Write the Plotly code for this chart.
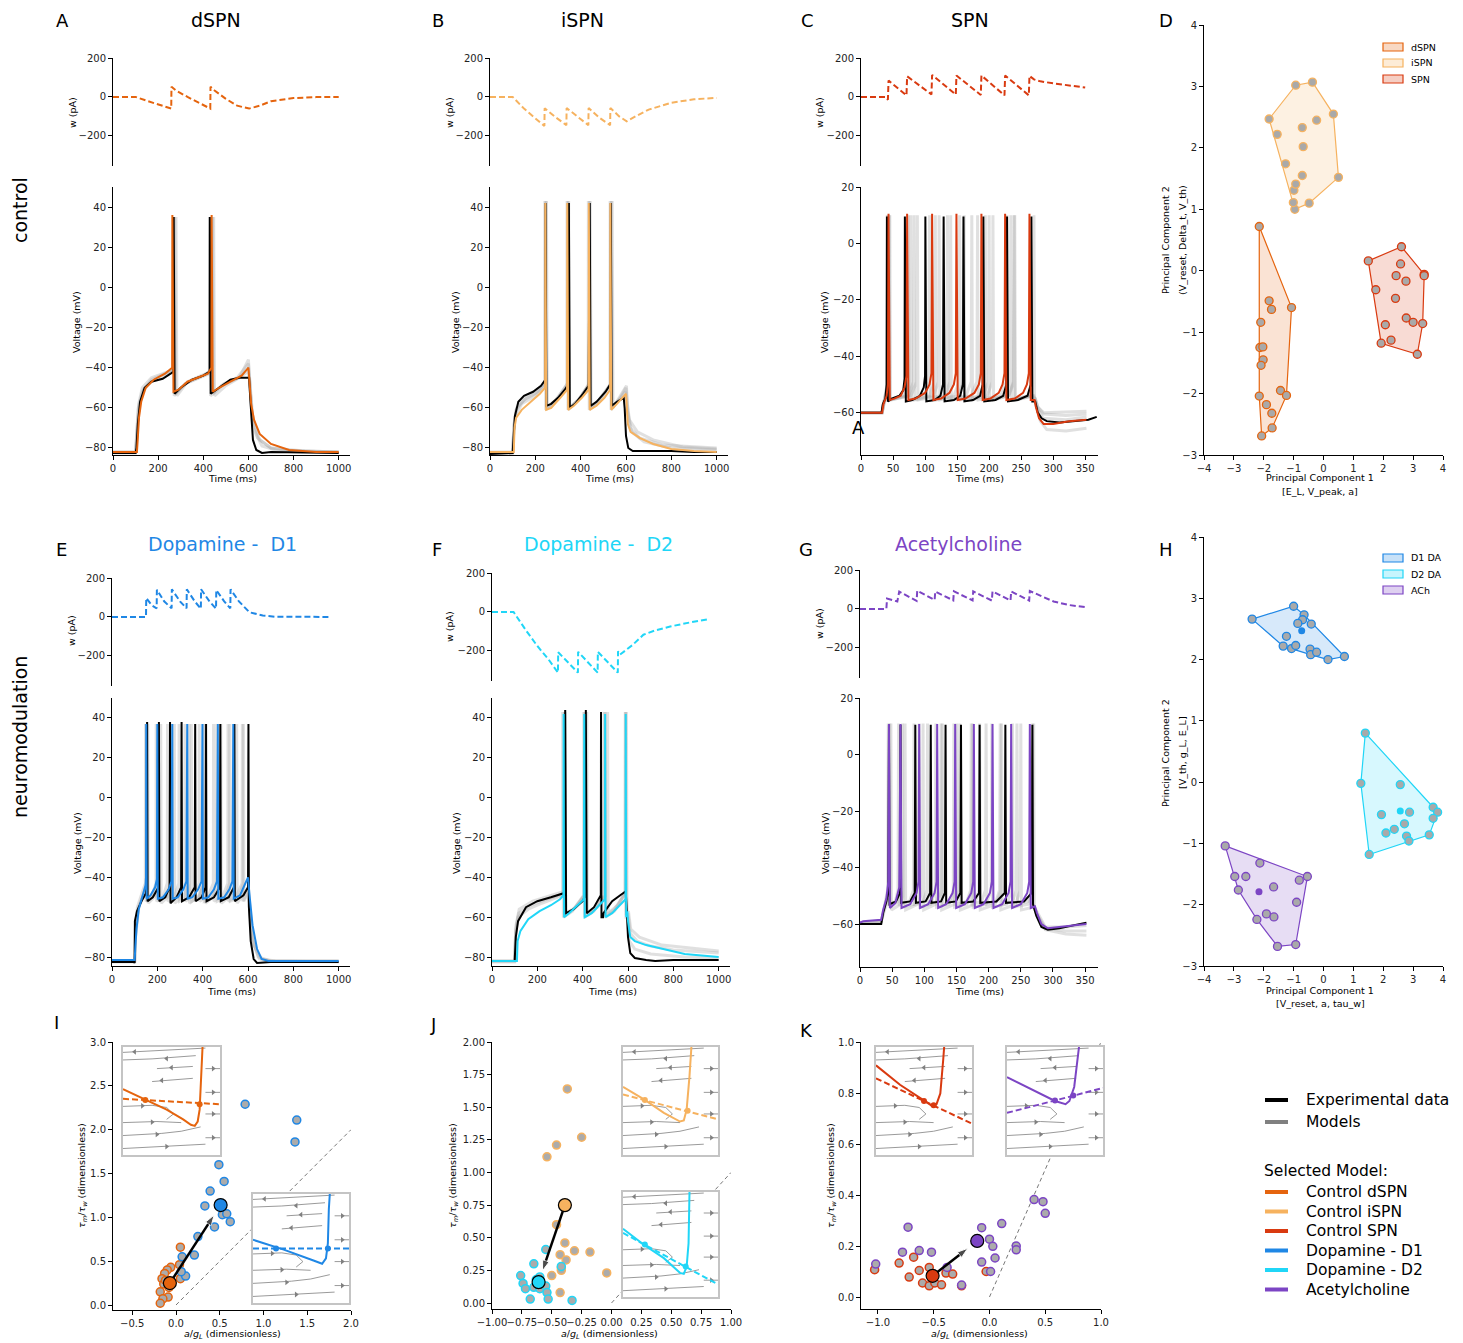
import plotly.graph_objects as go

W, H = 1463, 1343
FONT = "DejaVu Sans"

C_DSPN = "#e5640e"
C_ISPN = "#f6b25f"
C_SPN = "#d93a10"
C_D1 = "#1f87e5"
C_D2 = "#20d6f7"
C_ACH = "#7c45c4"
GRAY_MODEL = "rgba(165,165,165,0.35)"

# ---------------- Panel A (dSPN) ----------------
A_exp = [(0,-82.5),(100,-82.5),(104,-80),(110,-68),(120,-57),(140,-50),(170,-47),(220,-45.5),(255,-43),(268,-42),(269,35),(273,-53),(300,-50),(350,-46),(400,-44),(428,-42),(429,35),(433,-53),(470,-50),(520,-46),(560,-45),(603,-45),(608,-55),(620,-76),(635,-81),(660,-82.5),(700,-82),(1000,-82.5)]
A_mod = [(0,-82),(106,-82),(110,-75),(115,-65),(125,-57),(145,-50),(180,-46),(230,-43),(262,-40),(263,36),(268,-52),(290,-51),(330,-47),(380,-45),(420,-43),(436,-40),(437,36),(442,-52),(470,-50),(520,-47),(570,-44),(600,-40),(604,-45),(612,-58),(625,-66),(650,-73),(700,-78),(780,-81),(900,-82),(1000,-82)]
A_g1 = [(0,-82),(100,-82),(105,-76),(115,-60),(135,-51),(170,-47),(230,-44),(272,-40),(273,35),(277,-53),(320,-48),(380,-45),(440,-41),(441,35),(445,-53),(490,-48),(550,-45),(600,-38),(605,-45),(620,-66),(650,-76),(700,-80),(800,-81.5),(1000,-82)]
A_g2 = [(0,-82.5),(100,-82.5),(104,-74),(112,-60),(130,-52),(170,-46),(230,-43),(278,-40),(279,35),(283,-54),(330,-47),(390,-44),(445,-42),(446,35),(450,-54),(500,-49),(560,-45),(600,-36),(606,-48),(620,-70),(660,-79),(720,-81),(1000,-82)]
A_g3 = [(0,-82),(100,-82),(106,-72),(114,-58),(130,-50),(170,-45),(220,-43),(266,-41),(267,35),(271,-54),(320,-48),(380,-45),(427,-43),(428,35),(432,-54),(480,-49),(540,-46),(600,-42),(605,-46),(615,-62),(640,-75),(700,-80),(850,-81.5),(1000,-82)]
A_w = [(0,0),(100,0),(150,-20),(200,-40),(258,-60),(259,52),(280,32),(330,0),(380,-30),(431,-60),(432,52),(450,33),(500,-10),(550,-45),(603,-60),(650,-45),(700,-22),(800,-6),(900,-1),(1000,0)]

# ---------------- Panel B (iSPN) ----------------
B_exp = [(0,-83),(100,-82.5),(104,-75),(110,-64),(125,-57),(150,-54),(190,-52),(225,-49),(244,-46),(245,42),(249,-59),(270,-58),(300,-55),(330,-51),(347,-48),(348,42),(352,-60),(375,-58),(410,-53),(435,-49),(440,42),(444,-59),(470,-57),(510,-52),(532,-48),(533,42),(537,-59),(560,-57),(590,-55),(594,-60),(600,-74),(610,-80),(630,-81.5),(700,-81.5),(800,-81.5),(900,-82),(1000,-82)]
B_mod = [(0,-82),(105,-82),(108,-70),(115,-65),(140,-61),(180,-57),(220,-53),(243,-50),(244,42),(248,-61),(270,-60),(310,-55),(340,-51),(341,42),(345,-61),(370,-59),(405,-55),(435,-51),(436,42),(440,-61),(470,-59),(505,-55),(530,-51),(531,42),(535,-61),(560,-58),(600,-53),(603,-58),(608,-68),(620,-72),(660,-75),(720,-78),(800,-80.5),(900,-81.5),(1000,-82)]
B_g1 = [(0,-82.5),(100,-82.5),(105,-70),(115,-61),(150,-56),(200,-53),(245,-48),(246,43),(250,-60),(290,-56),(343,-48),(344,43),(348,-60),(390,-56),(438,-48),(439,43),(443,-60),(480,-56),(534,-48),(535,43),(539,-60),(575,-55),(600,-50),(605,-57),(615,-66),(650,-72),(720,-76),(850,-79.5),(1000,-80.5)]
B_g2 = [(0,-82),(100,-82),(106,-68),(118,-60),(160,-55),(210,-52),(248,-47),(249,43),(253,-60),(300,-55),(346,-47),(347,43),(351,-60),(400,-55),(441,-47),(442,43),(446,-60),(490,-55),(538,-47),(539,43),(543,-60),(580,-53),(602,-49),(608,-62),(625,-72),(680,-77),(800,-80),(1000,-81)]
B_g3 = [(0,-82.5),(100,-82.5),(104,-74),(112,-64),(140,-58),(200,-54),(241,-49),(242,43),(246,-61),(295,-56),(339,-49),(340,43),(344,-61),(390,-56),(433,-49),(434,43),(438,-61),(485,-56),(529,-49),(530,43),(534,-61),(575,-55),(598,-52),(604,-60),(618,-70),(660,-75),(760,-78.5),(1000,-80)]
B_w = [(0,0),(100,0),(150,-60),(200,-110),(240,-150),(241,-58),(290,-105),(337,-145),(338,-57),(390,-105),(434,-145),(435,-57),(480,-105),(530,-145),(531,-57),(570,-100),(603,-125),(650,-95),(700,-65),(800,-30),(900,-12),(1000,-5)]

# ---------------- Panel C (SPN) ----------------
C_exp = [(0,-60),(32,-60),(34,-57),(38,-55),(40,-50),(40.5,9.5),(42,-56),(48,-55),(60,-54),(66,-52),(68,-48),(68.5,9.5),(70,-56),(80,-55.5),(92,-54),(98,-51),(100,-47),(100.5,9.5),(102,-56),(115,-55.5),(124,-54),(128,-50),(129,9.5),(130.5,-56),(145,-55.5),(155,-54),(159,-50),(160,9.5),(161.5,-56),(175,-55.5),(186,-54),(190,-50),(191,9.5),(192.5,-56),(210,-55.5),(222,-54),(227,-50),(228,9.5),(229.5,-56),(245,-55.5),(260,-54),(265,-50),(266,9.5),(267.5,-56),(272,-56),(276,-60),(282,-62),(290,-63),(310,-63.5),(340,-63),(355,-62.5),(368,-61.5)]
C_mod = [(0,-60),(33,-60),(35,-57),(40,-54),(42,-50),(43,10.5),(45,-55.5),(52,-55),(62,-54),(68,-51),(71,-47),(72,10.5),(74,-55.5),(85,-55),(100,-53),(107,-50),(110,-46),(111,10.5),(113,-55.5),(125,-55),(138,-53),(145,-50),(148,-46),(149,10.5),(151,-55.5),(163,-55),(177,-53),(184,-50),(187,-46),(188,10.5),(190,-55.5),(202,-55),(215,-53),(221,-50),(224,-46),(225,10.5),(227,-55.5),(240,-55),(253,-53),(259,-50),(262,-46),(263,10.5),(265,-55.5),(271,-55.5),(273,-58),(278,-62),(285,-64),(300,-64),(325,-63),(352,-62.5)]
C_g1 = [(0,-60),(33,-60),(36,-56),(40,-51),(41,10),(42,-55.5),(65,-54),(73,-49),(74,10),(75,-55.5),(98,-54),(106,-49),(107,10),(108,-55.5),(131,-54),(139,-49),(140,10),(141,-55.5),(164,-54),(172,-49),(173,10),(174,-55.5),(197,-54),(205,-49),(206,10),(207,-55.5),(230,-54),(238,-49),(239,10),(240,-55.5),(268,-54),(272,-55),(276,-58),(285,-60.5),(320,-61),(352,-60.5)]
C_g2 = [(0,-60),(33,-60),(36,-57),(44,-50),(45,10),(46,-55.5),(74,-54),(82,-49),(83,10),(84,-55.5),(113,-54),(121,-49),(122,10),(123,-55.5),(152,-54),(160,-49),(161,10),(162,-55.5),(191,-54),(199,-49),(200,10),(201,-55.5),(231,-54),(239,-49),(240,10),(241,-55.5),(270,-54),(273,-57),(280,-63),(290,-66),(320,-66.5),(352,-65.5)]
C_g3 = [(0,-60),(33,-60),(36,-56),(41,-50),(42,10),(43,-55.5),(69,-54),(77,-49),(78,10),(79,-55.5),(107,-54),(115,-49),(116,10),(117,-55.5),(145,-54),(153,-49),(154,10),(155,-55.5),(185,-54),(193,-49),(194,10),(195,-55.5),(225,-54),(233,-49),(234,10),(235,-55.5),(262,-54),(269,-50),(270,10),(271,-55.5),(274,-58),(284,-62),(320,-62.5),(352,-61.5)]
C_g4 = [(0,-60),(33,-60),(36,-56),(43,-50),(44,10),(45,-55.5),(78,-54),(87,-49),(88,10),(89,-55.5),(125,-54),(134,-49),(135,10),(136,-55.5),(172,-54),(181,-49),(182,10),(183,-55.5),(218,-54),(227,-49),(228,10),(229,-55.5),(265,-54),(272,-55),(276,-58),(285,-60),(352,-59.5)]
C_w = [(0,0),(38,0),(42,-15),(43,84),(71,8),(72,106),(110,13),(111,113),(148,12),(149,110),(187,10),(188,110),(224,8),(225,110),(262,8),(263,108),(270,90),(280,80),(300,70),(330,58),(350,48)]

# ---------------- Panel D (PCA control) ----------------
D_dspn = [(-2.15,0.72),(-1.07,-0.60),(-1.82,-0.49),(-1.74,-0.63),(-2.10,-0.84),(-2.13,-1.25),(-2.03,-1.24),(-2.02,-1.45),(-2.09,-1.54),(-1.44,-1.95),(-1.24,-2.03),(-2.15,-2.04),(-1.91,-2.18),(-1.73,-2.32),(-1.72,-2.56),(-2.07,-2.69)]
D_ispn = [(-0.93,3.02),(-0.37,3.07),(0.33,2.55),(0.50,1.52),(-0.48,1.10),(-0.96,1.00),(-1.01,1.11),(-0.99,1.31),(-0.93,1.41),(-0.71,1.55),(-1.27,1.74),(-1.55,2.22),(-1.82,2.47),(-0.71,2.33),(-0.68,2.02),(-0.23,2.45)]
D_spn = [(1.50,0.16),(2.61,0.39),(2.58,0.11),(3.37,-0.06),(3.37,-0.08),(2.43,-0.08),(2.76,-0.17),(1.75,-0.31),(2.41,-0.45),(2.77,-0.77),(3.00,-0.84),(3.32,-0.86),(2.07,-0.88),(2.26,-1.13),(1.93,-1.18),(3.14,-1.36)]

# ---------------- Panel E (Dopamine D1) ----------------
E_exp = [(0,-82.5),(98,-82.5),(100,-83),(101,-62),(110,-57),(130,-52),(150,-48),(154,-44),(155,38),(157,-52),(180,-50),(205,-45),(207,38),(209,-52),(235,-50),(254,-45),(256,38),(258,-53),(285,-50),(305,-45),(307,38),(309,-52),(340,-50),(365,-45),(367,37),(369,-52),(395,-50),(413,-45),(415,37),(417,-52),(450,-50),(476,-45),(478,37),(480,-52),(515,-50),(538,-45),(540,37),(542,-52),(580,-49),(600,-45),(602,37),(604,-55),(612,-72),(625,-81),(640,-83),(700,-82.5),(1000,-82.5)]
E_mod = [(0,-81.5),(100,-81.5),(103,-75),(108,-66),(118,-56),(135,-49),(148,-44),(150,-40),(151,37),(153,-50.7),(170,-49),(190,-45),(198,-41),(200,37),(202,-50.7),(225,-50),(250,-46),(262,-42),(266,37),(268,-50.7),(290,-50),(315,-46),(328,-42),(332,37),(334,-50.7),(355,-50),(380,-46),(395,-42),(399,37),(401,-50.7),(425,-50),(450,-46),(463,-42),(467,37),(469,-50.7),(495,-50),(518,-46),(531,-42),(535,37),(537,-50.7),(565,-49),(590,-43),(600,-40),(606,-48),(620,-64),(640,-76),(660,-81),(690,-82),(1000,-82)]
E_g1 = [(0,-82),(100,-82),(104,-68),(115,-56),(140,-48),(151,-43),(152,37),(154,-52),(185,-49),(204,-43),(205,37),(207,-52),(240,-49),(261,-43),(262,37),(264,-52),(300,-49),(321,-43),(322,37),(324,-52),(360,-49),(384,-43),(385,37),(387,-52),(425,-49),(447,-43),(448,37),(450,-52),(490,-49),(511,-43),(512,37),(514,-52),(550,-49),(574,-43),(575,37),(577,-52),(600,-47),(606,-55),(620,-72),(650,-81),(700,-82),(1000,-82)]
E_g2 = [(0,-82.5),(100,-82.5),(104,-70),(118,-55),(145,-47),(157,-43),(158,37),(160,-53),(195,-49),(214,-43),(215,37),(217,-53),(255,-49),(274,-43),(275,37),(277,-53),(318,-49),(339,-43),(340,37),(342,-53),(385,-49),(409,-43),(410,37),(412,-53),(455,-49),(479,-43),(480,37),(482,-53),(525,-49),(549,-43),(550,37),(552,-53),(590,-47),(602,-45),(608,-55),(625,-74),(660,-81),(720,-82),(1000,-82.5)]
E_g3 = [(0,-82),(100,-82),(103,-66),(112,-55),(135,-47),(147,-43),(148,37),(150,-52),(175,-50),(194,-43),(195,37),(197,-52),(225,-50),(244,-43),(245,37),(247,-52),(275,-50),(295,-43),(296,37),(298,-52),(330,-50),(349,-43),(350,37),(352,-52),(385,-50),(404,-43),(405,37),(407,-52),(440,-50),(461,-43),(462,37),(464,-52),(500,-50),(519,-43),(520,37),(522,-52),(560,-50),(579,-43),(580,37),(582,-52),(598,-48),(604,-52),(618,-70),(645,-80),(700,-82),(1000,-82)]
E_w = [(0,0),(150,0),(151,97),(175,60),(197,44),(198,140),(230,80),(263,44),(264,142),(300,80),(329,44),(330,142),(365,80),(392,42),(393,142),(430,80),(459,42),(460,138),(495,80),(522,44),(523,142),(560,80),(606,24),(665,7),(720,1),(966,0)]

# ---------------- Panel F (Dopamine D2) ----------------
F_exp = [(0,-82),(100,-82),(105,-70),(115,-62),(150,-55),(200,-52),(260,-50),(315,-48),(322,-47),(323,44),(327,-58),(360,-56),(400,-52),(413,-49),(414,44),(418,-58),(450,-55),(480,-49),(481,43),(483,-60),(490,-60),(492,-58),(530,-52),(580,-48),(590,-47),(595,-58),(600,-70),(610,-78),(630,-80.5),(680,-81.5),(720,-82),(800,-81.5),(1000,-81.5)]
F_mod = [(0,-82),(110,-82),(113,-72),(125,-67),(160,-61),(210,-57),(260,-54),(300,-51),(315,-49),(316,42),(318,-60),(340,-58),(380,-54),(405,-51),(407,42),(409,-60),(440,-58),(475,-54),(498,-51),(499,42),(501,-60),(530,-58),(570,-53),(589,-51),(590,42),(592,-60),(597,-57),(600,-62),(610,-70),(630,-72),(680,-74),(750,-76),(850,-78.5),(1000,-80)]
F_g1 = [(0,-82),(100,-82),(104,-68),(115,-60),(160,-56),(220,-53),(290,-50),(319,-48),(320,43),(323,-59),(360,-56),(408,-49),(409,43),(412,-59),(450,-56),(498,-49),(499,43),(502,-59),(540,-56),(588,-48),(589,43),(592,-59),(600,-58),(610,-68),(640,-72),(700,-74.5),(800,-76.5),(1000,-78)]
F_g2 = [(0,-82.5),(100,-82.5),(105,-66),(118,-58),(170,-54),(240,-51),(300,-49),(311,-48),(312,43),(315,-60),(355,-57),(404,-49),(405,43),(408,-60),(450,-57),(495,-49),(496,43),(499,-60),(540,-57),(587,-48),(588,43),(591,-60),(598,-60),(606,-72),(630,-76),(700,-78.5),(850,-80),(1000,-80.5)]
F_g3 = [(0,-82),(100,-82),(106,-64),(120,-56),(180,-52),(260,-49),(321,-47),(322,43),(325,-58),(370,-55),(417,-48),(418,43),(421,-58),(465,-55),(509,-48),(510,43),(513,-58),(555,-54),(592,-47),(593,43),(596,-58),(602,-57),(612,-66),(650,-70),(750,-74),(1000,-77)]
F_w = [(0,0),(95,0),(150,-95),(200,-175),(250,-245),(291,-312),(292,-207),(335,-260),(379,-312),(380,-205),(425,-260),(466,-312),(467,-205),(512,-260),(555,-312),(556,-202),(565,-219),(620,-170),(668,-117),(720,-95),(786,-75),(870,-55),(955,-37)]

# ---------------- Panel G (Acetylcholine) ----------------
G_exp = [(0,-60),(33,-60),(36,-56),(41,-52),(44,-48),(45,10.5),(46,-53),(56,-52),(62,-49),(63,10.5),(64,-52.5),(78,-52),(85,-49),(86,10.5),(87,-52.5),(102,-52),(109,-49),(110,10.5),(111,-52.5),(126,-52),(132,-49),(133,10.5),(134,-52.5),(149,-52),(156,-49),(157,10.5),(158,-52.5),(176,-52),(185,-49),(186,10.5),(187,-52.5),(212,-52),(225,-49),(226,10.5),(227,-52.5),(255,-52),(267,-49),(268,10.5),(269,-53),(274,-57),(282,-61),(292,-62),(310,-61.5),(330,-60.5),(352,-59.5)]
G_mod = [(0,-59.5),(5,-59),(33,-58.5),(36,-55),(41,-51),(44,-45),(45,10.8),(46.5,-54.3),(55,-52.5),(61,-47),(63,10.8),(64.5,-54.3),(78,-53),(88,-49),(91,-45),(92,10.8),(93.5,-54.3),(106,-53),(116,-49),(119,-45),(120,10.8),(121.5,-54.3),(134,-53),(144,-49),(147,-45),(148,10.8),(149.5,-54.3),(163,-53),(173,-49),(176,-45),(177,10.8),(178.5,-54.3),(192,-53),(202,-49),(205,-45),(206,10.8),(207.5,-54.3),(221,-53),(231,-49),(234,-45),(235,10.8),(236.5,-54.3),(250,-53),(260,-49),(263,-45),(264,10.8),(265.5,-54.3),(272,-53.7),(275,-56),(282,-60),(292,-61.5),(310,-61),(330,-60.5),(352,-60)]
G_g1 = [(0,-59.5),(33,-59),(36,-56),(45,-48),(46,11),(47,-54),(60,-52),(65,-48),(66,11),(67,-54),(84,-53),(91,-48),(92,11),(93,-54),(110,-53),(117,-48),(118,11),(119,-54),(138,-53),(145,-48),(146,11),(147,-54),(166,-53),(174,-48),(175,11),(176,-54),(196,-53),(204,-48),(205,11),(206,-54),(228,-53),(236,-48),(237,11),(238,-54),(262,-53),(269,-48),(270,11),(271,-54),(276,-57),(288,-62),(320,-63.5),(352,-64)]
G_g2 = [(0,-59.5),(33,-59),(37,-56),(47,-48),(48,11),(49,-55),(63,-53),(69,-48),(70,11),(71,-55),(90,-53),(97,-48),(98,11),(99,-55),(118,-53),(125,-48),(126,11),(127,-55),(147,-53),(154,-48),(155,11),(156,-55),(178,-53),(185,-48),(186,11),(187,-55),(210,-53),(217,-48),(218,11),(219,-55),(242,-53),(249,-48),(250,11),(251,-55),(270,-54),(276,-57),(288,-61.5),(320,-62.5),(352,-62.5)]
G_g3 = [(0,-59.5),(33,-59),(36,-56),(43,-48),(44,11),(45,-53),(55,-52),(59,-48),(60,11),(61,-53),(77,-52),(83,-48),(84,11),(85,-53),(98,-52),(104,-48),(105,11),(106,-53),(121,-52),(127,-48),(128,11),(129,-53),(143,-52),(149,-48),(150,11),(151,-53),(166,-52),(172,-48),(173,11),(174,-53),(189,-52),(195,-48),(196,11),(197,-53),(213,-52),(219,-48),(220,11),(221,-53),(237,-52),(243,-48),(244,11),(245,-53),(261,-52),(267,-48),(268,11),(269,-53),(276,-56),(288,-61),(320,-61),(352,-60.5)]
G_w = [(0,0),(41,0),(42,53),(58,38),(61,89),(88,41),(89,94),(116,46),(117,89),(145,44),(146,90),(175,44),(176,90),(205,43),(206,90),(234,43),(235,90),(263,43),(264,92),(280,68),(301,38),(325,20),(350,9)]

# ---------------- Panel H (PCA neuromodulation) ----------------
H_d1 = [(-2.39,2.66),(-1.00,2.87),(-0.65,2.73),(-0.70,2.65),(-0.86,2.59),(-0.41,2.58),(-1.24,2.38),(-1.35,2.22),(-1.07,2.18),(-0.93,2.23),(-0.45,2.17),(-0.43,2.08),(-0.23,2.12),(0.15,2.00),(0.70,2.05)]
H_d1_sel = (-0.73, 2.47)
H_d2 = [(1.40,0.80),(1.25,-0.02),(2.57,-0.04),(2.88,-0.49),(1.94,-0.53),(2.09,-0.83),(2.37,-0.77),(2.71,-0.68),(2.78,-0.88),(2.86,-0.96),(3.67,-0.41),(3.82,-0.49),(3.67,-0.59),(3.54,-0.86),(1.53,-1.18)]
H_d2_sel = (2.57, -0.47)
H_ach = [(-3.29,-1.04),(-2.13,-1.32),(-2.97,-1.54),(-2.60,-1.54),(-2.85,-1.76),(-1.67,-1.71),(-0.81,-1.60),(-0.54,-1.54),(-0.90,-1.96),(-1.91,-2.15),(-1.66,-2.20),(-2.23,-2.24),(-0.93,-2.65),(-1.54,-2.68)]
H_ach_sel = (-2.16, -1.79)

# ---------------- Panels I, J, K (a/gL vs tau_m/tau_w) ----------------
I_dspn = [(0.05,0.66),(-0.06,0.43),(-0.10,0.40),(-0.13,0.36),(-0.16,0.30),(-0.14,0.24),(-0.18,0.15),(-0.09,0.09),(-0.15,0.07),(-0.18,0.02),(0.04,0.46),(0.05,0.30),(-0.08,0.20),(-0.12,0.28)]
I_d1 = [(0.79,2.29),(1.38,2.11),(1.36,1.86),(0.49,1.60),(0.55,1.41),(0.39,1.30),(0.33,1.13),(0.53,1.03),(0.58,1.04),(0.62,0.95),(0.44,0.89),(0.25,0.78),(0.21,0.57),(0.07,0.55),(0.11,0.33),(0.06,0.38)]
I_sel_from = (-0.07, 0.25)
I_sel_to = (0.51, 1.14)
J_ispn = [(-0.37,1.64),(-0.25,1.27),(-0.46,1.21),(-0.54,1.12),(-0.46,0.60),(-0.39,0.46),(-0.31,0.40),(-0.18,0.39),(-0.43,0.37),(-0.38,0.33),(-0.42,0.27),(-0.42,0.25),(-0.50,0.21),(-0.04,0.23),(-0.43,0.08)]
J_d2 = [(-0.55,0.41),(-0.65,0.30),(-0.76,0.21),(-0.74,0.15),(-0.72,0.11),(-0.68,0.03),(-0.63,0.18),(-0.65,0.12),(-0.60,0.20),(-0.60,0.11),(-0.55,0.13),(-0.54,0.08),(-0.53,0.03),(-0.42,0.28),(-0.33,0.02)]
J_sel_from = (-0.39, 0.75)
J_sel_to = (-0.61, 0.16)
K_spn = [(-1.03,0.107),(-0.81,0.133),(-0.68,0.156),(-0.72,0.078),(-0.63,0.104),(-0.60,0.055),(-0.54,0.116),(-0.54,0.044),(-0.49,0.055),(-0.43,0.048),(-0.39,0.094),(-0.33,0.090),(-0.25,0.044),(-0.03,0.100)]
K_ach = [(-1.02,0.129),(-0.78,0.176),(-0.73,0.274),(-0.63,0.182),(-0.52,0.176),(-0.38,0.116),(-0.07,0.272),(0.00,0.227),(0.03,0.199),(-0.07,0.137),(0.05,0.153),(0.01,0.100),(0.11,0.288),(0.24,0.200),(0.24,0.185),(0.40,0.382),(0.48,0.374),(0.50,0.328),(-0.25,0.047)]
K_sel_from = (-0.51, 0.083)
K_sel_to = (-0.11, 0.22)
DIAG_I = [0, 2.0]
DIAG_J = [0, 1.0]
DIAG_K = [0, 1.0]

# ---------------- Phase-plane insets (normalised coords) ----------------
I1_v = [(0,0.61),(0.23,0.51),(0.45,0.42),(0.62,0.33),(0.70,0.28),(0.74,0.27),(0.77,0.31),(0.79,0.42),(0.80,0.6),(0.81,0.8),(0.82,1.0)]
I1_w = [(0,0.52),(1,0.47)]
I1_fp = [(0.23,0.51),(0.79,0.47)]
I2_v = [(0,0.58),(0.32,0.49),(0.63,0.39),(0.72,0.36),(0.76,0.41),(0.78,0.55),(0.79,0.86),(0.80,1.0)]
I2_w = [(0,0.50),(1,0.50)]
I2_fp = [(0.24,0.50),(0.78,0.50)]
J1_v = [(0,0.63),(0.23,0.51),(0.43,0.39),(0.60,0.31),(0.64,0.32),(0.67,0.42),(0.70,0.73),(0.72,1.0)]
J1_w = [(0,0.56),(1,0.33)]
J1_fp = [(0.23,0.51),(0.68,0.41)]
J2_v = [(0,0.65),(0.23,0.49),(0.43,0.37),(0.60,0.23),(0.64,0.22),(0.67,0.29),(0.69,0.51),(0.70,1.0)]
J2_w = [(0,0.61),(1,0.12)]
J2_fp = [(0.23,0.50),(0.66,0.29)]
K1_v = [(0,0.83),(0.25,0.65),(0.49,0.51),(0.59,0.45),(0.63,0.47),(0.67,0.57),(0.70,0.88),(0.71,1.0)]
K1_w = [(0,0.71),(1,0.29)]
K1_fp = [(0.50,0.50),(0.60,0.46)]
K2_v = [(0,0.72),(0.28,0.60),(0.50,0.50),(0.61,0.47),(0.65,0.50),(0.70,0.63),(0.73,0.88),(0.75,1.0)]
K2_w = [(0,0.39),(1,0.62)]
K2_fp = [(0.50,0.505),(0.69,0.55)]
STREAMS = [
    [(0.0,0.95),(0.4,0.97),(0.85,0.99)],
    [(0.0,0.88),(0.3,0.89),(0.75,0.92)],
    [(0.35,0.80),(0.72,0.82)],
    [(0.3,0.68),(0.55,0.70),(0.72,0.71)],
    [(0.85,0.80),(1.0,0.80)],
    [(0.85,0.58),(1.0,0.58)],
    [(0.85,0.38),(1.0,0.38)],
    [(0.85,0.16),(1.0,0.16)],
    [(0.0,0.45),(0.3,0.46),(0.45,0.44),(0.52,0.38),(0.45,0.33)],
    [(0.0,0.30),(0.35,0.31),(0.6,0.30)],
    [(0.0,0.18),(0.4,0.20),(0.6,0.22),(0.8,0.26)],
    [(0.0,0.06),(0.5,0.08),(0.85,0.10)],
]
ARROWS_LEFT = [(0.12,0.955),(0.45,0.893),(0.5,0.81),(0.4,0.69)]
ARROWS_RIGHT = [(0.93,0.80),(0.93,0.58),(0.93,0.38),(0.93,0.16),(0.2,0.455),(0.3,0.305),(0.35,0.19),(0.45,0.078)]
INSET_BOX = [(0,0),(1,0),(1,1),(0,1),(0,0)]

# ---------------- legends ----------------
LEGEND_MAIN = ["Experimental data", "Models"]
LEGEND_MAIN_COLORS = ["black", "#808080"]
LEGEND_SEL_TITLE = "Selected Model:"
LEGEND_SEL = ["Control dSPN", "Control iSPN", "Control SPN", "Dopamine - D1", "Dopamine - D2", "Acetylcholine"]
LEGEND_SEL_COLORS = [C_DSPN, C_ISPN, C_SPN, C_D1, C_D2, C_ACH]
LEGEND_D = ["dSPN", "iSPN", "SPN"]
LEGEND_D_COLORS = [C_DSPN, C_ISPN, C_SPN]
LEGEND_H = ["D1 DA", "D2 DA", "ACh"]
LEGEND_H_COLORS = [C_D1, C_D2, C_ACH]

# ================= figure construction =================
fig = go.Figure()


def ids(n):
    return ("x", "y") if n == 1 else (f"x{n}", f"y{n}")


def xs(pts):
    return [p[0] for p in pts]


def ys(pts):
    return [p[1] for p in pts]


def line(n, pts, color, width=2.0, dash=None):
    xa, ya = ids(n)
    fig.add_trace(go.Scatter(x=xs(pts), y=ys(pts), mode="lines",
                             line=dict(color=color, width=width, dash=dash),
                             xaxis=xa, yaxis=ya, showlegend=False, hoverinfo="skip"))


def scatter(n, pts, fill, edge, size=8, ew=1.3):
    xa, ya = ids(n)
    fig.add_trace(go.Scatter(x=xs(pts), y=ys(pts), mode="markers",
                             marker=dict(color=fill, size=size, line=dict(color=edge, width=ew)),
                             xaxis=xa, yaxis=ya, showlegend=False, hoverinfo="skip"))


def hull(pts):
    p = sorted(set(pts))
    def cross(o, a, b):
        return (a[0]-o[0])*(b[1]-o[1]) - (a[1]-o[1])*(b[0]-o[0])
    lower, upper = [], []
    for q in p:
        while len(lower) >= 2 and cross(lower[-2], lower[-1], q) <= 0:
            lower.pop()
        lower.append(q)
    for q in reversed(p):
        while len(upper) >= 2 and cross(upper[-2], upper[-1], q) <= 0:
            upper.pop()
        upper.append(q)
    h = lower[:-1] + upper[:-1]
    return h + [h[0]]


def rgba(hexc, a):
    h = hexc.lstrip("#")
    return f"rgba({int(h[0:2],16)},{int(h[2:4],16)},{int(h[4:6],16)},{a})"


def hull_trace(n, pts, color):
    xa, ya = ids(n)
    hp = hull(pts)
    fig.add_trace(go.Scatter(x=xs(hp), y=ys(hp), mode="lines", fill="toself",
                             fillcolor=rgba(color, 0.18), line=dict(color=color, width=1.2),
                             showlegend=False, xaxis=xa, yaxis=ya, hoverinfo="skip"))


layout = {}
AX_FONT = dict(family=FONT, size=10, color="#222")
BOXES = {}
RANGES = {}


def dom(x0, x1, y0, y1):
    return [x0 / W, x1 / W], [1 - y1 / H, 1 - y0 / H]


def axis(n, box, xr, yr, xt=None, yt=None, xfmt=None, yfmt=None, showx=True, inset=False):
    BOXES[n] = box
    RANGES[n] = (xr, yr)
    dx, dy = dom(*box)
    xa, ya = ids(n)
    xk = "xaxis" if n == 1 else f"xaxis{n}"
    yk = "yaxis" if n == 1 else f"yaxis{n}"
    if inset:
        common = dict(showgrid=False, zeroline=False, showline=True, mirror=True,
                      linecolor="#c4c4c4", linewidth=1.5, ticks="", showticklabels=False,
                      fixedrange=True, automargin=False)
        layout[xk] = dict(domain=dx, range=xr, anchor=ya, **common)
        layout[yk] = dict(domain=dy, range=yr, anchor=xa, **common)
        return
    common = dict(showgrid=False, zeroline=False, showline=True, linecolor="black", linewidth=1,
                  ticks="outside", ticklen=4, tickwidth=1, tickcolor="black", tickfont=AX_FONT,
                  tickangle=0, fixedrange=True, automargin=False)
    xd = dict(domain=dx, range=xr, anchor=ya, **common)
    if xt is not None:
        xd.update(tickmode="array", tickvals=xt)
    if xfmt:
        xd["tickformat"] = xfmt
    if not showx:
        xd.update(visible=False)
    yd = dict(domain=dy, range=yr, anchor=xa, **common)
    if yt is not None:
        yd.update(tickmode="array", tickvals=yt)
    if yfmt:
        yd["tickformat"] = yfmt
    layout[xk] = xd
    layout[yk] = yd


W_RANGE = [-355, 200]
W_TICKS = [-200, 0, 200]
V_TICKS_L = [-80, -60, -40, -20, 0, 20, 40]
V_TICKS_S = [-60, -40, -20, 0, 20]
T_TICKS_L = [0, 200, 400, 600, 800, 1000]
T_TICKS_S = [0, 50, 100, 150, 200, 250, 300, 350]
PC_X = [-4, -3, -2, -1, 0, 1, 2, 3, 4]
PC_Y = [-3, -2, -1, 0, 1, 2, 3, 4]

axis(1, (113, 350, 58, 166), [0, 1050], W_RANGE, yt=W_TICKS, showx=False)
axis(2, (113, 350, 187, 455), [0, 1050], [-83.5, 50], xt=T_TICKS_L, yt=V_TICKS_L)
axis(3, (490, 728, 58, 166), [0, 1050], W_RANGE, yt=W_TICKS, showx=False)
axis(4, (490, 728, 187, 455), [0, 1050], [-83.5, 50], xt=T_TICKS_L, yt=V_TICKS_L)
axis(5, (861, 1098, 58, 166), [0, 370], W_RANGE, yt=W_TICKS, showx=False)
axis(6, (861, 1098, 187, 455), [0, 370], [-75, 20], xt=T_TICKS_S, yt=V_TICKS_S)
axis(7, (1204, 1443, 25, 455), [-4, 4], [-3, 4], xt=PC_X, yt=PC_Y)
axis(8, (112, 350, 578, 686), [0, 1050], W_RANGE, yt=W_TICKS, showx=False)
axis(9, (112, 350, 698, 966), [0, 1050], [-84.5, 50], xt=T_TICKS_L, yt=V_TICKS_L)
axis(10, (492, 730, 573, 681), [0, 1050], W_RANGE, yt=W_TICKS, showx=False)
axis(11, (492, 730, 698, 966), [0, 1050], [-84.5, 50], xt=T_TICKS_L, yt=V_TICKS_L)
axis(12, (860, 1098, 570, 678), [0, 370], W_RANGE, yt=W_TICKS, showx=False)
axis(13, (860, 1098, 698, 967), [0, 370], [-75.2, 20], xt=T_TICKS_S, yt=V_TICKS_S)
axis(14, (1204, 1443, 537, 966), [-4, 4], [-3, 4], xt=PC_X, yt=PC_Y)
axis(15, (113, 351, 1042, 1310), [-0.72, 2.0], [-0.057, 3.0],
     xt=[-0.5, 0, 0.5, 1.0, 1.5, 2.0], yt=[0, 0.5, 1.0, 1.5, 2.0, 2.5, 3.0], xfmt=".1f", yfmt=".1f")
axis(16, (492, 731, 1042, 1309), [-1.0, 1.0], [-0.046, 2.0],
     xt=[-1, -0.75, -0.5, -0.25, 0, 0.25, 0.5, 0.75, 1.0], yt=[0, 0.25, 0.5, 0.75, 1.0, 1.25, 1.5, 1.75, 2.0],
     xfmt=".2f", yfmt=".2f")
axis(17, (861, 1101, 1042, 1309), [-1.152, 1.0], [-0.047, 1.0],
     xt=[-1.0, -0.5, 0, 0.5, 1.0], yt=[0, 0.2, 0.4, 0.6, 0.8, 1.0], xfmt=".1f", yfmt=".1f")
inset_boxes = {18: (123, 220, 1047, 1155), 19: (253, 349, 1194, 1303),
               20: (623, 718, 1047, 1155), 21: (623, 718, 1192, 1297),
               22: (876, 972, 1047, 1155), 23: (1007, 1103, 1047, 1155)}
for n, b in inset_boxes.items():
    axis(n, b, [0, 1], [0, 1], inset=True)

panels = [
    (1, 2, A_w, A_exp, A_mod, [A_g1, A_g2, A_g3], C_DSPN),
    (3, 4, B_w, B_exp, B_mod, [B_g1, B_g2, B_g3], C_ISPN),
    (5, 6, C_w, C_exp, C_mod, [C_g1, C_g2, C_g3, C_g4], C_SPN),
    (8, 9, E_w, E_exp, E_mod, [E_g1, E_g2, E_g3], C_D1),
    (10, 11, F_w, F_exp, F_mod, [F_g1, F_g2, F_g3], C_D2),
    (12, 13, G_w, G_exp, G_mod, [G_g1, G_g2, G_g3], C_ACH),
]
for nw, nv, wtr, exp, mod, grays, col in panels:
    line(nw, wtr, col, width=2, dash="6px,3px")
    for g in grays:
        line(nv, g, GRAY_MODEL, width=3)
    line(nv, exp, "black", width=2)
    line(nv, mod, col, width=2)

for pts, col in [(D_dspn, C_DSPN), (D_ispn, C_ISPN), (D_spn, C_SPN)]:
    hull_trace(7, pts, col)
for pts, col in [(D_dspn, C_DSPN), (D_ispn, C_ISPN), (D_spn, C_SPN)]:
    scatter(7, pts, "#a9a9a9", col, size=8, ew=1.3)

for pts, sel, col in [(H_d1, H_d1_sel, C_D1), (H_d2, H_d2_sel, C_D2), (H_ach, H_ach_sel, C_ACH)]:
    hull_trace(14, pts + [sel], col)
for pts, sel, col in [(H_d1, H_d1_sel, C_D1), (H_d2, H_d2_sel, C_D2), (H_ach, H_ach_sel, C_ACH)]:
    scatter(14, pts, "#a9a9a9", col, size=8, ew=1.3)
    xa, ya = ids(14)
    fig.add_trace(go.Scatter(x=[sel[0]], y=[sel[1]], mode="markers", marker=dict(color=col, size=7),
                             xaxis=xa, yaxis=ya, showlegend=False, hoverinfo="skip"))


def to_px(n, x, y):
    (x0, x1, y0, y1), (xr, yr) = BOXES[n], RANGES[n]
    return (x0 + (x - xr[0]) / (xr[1] - xr[0]) * (x1 - x0),
            y1 - (y - yr[0]) / (yr[1] - yr[0]) * (y1 - y0))


def arrow_end(n, a, b, gap_px):
    """point on segment a->b that lies gap_px (screen pixels) before b"""
    ax_, ay_ = to_px(n, *a)
    bx_, by_ = to_px(n, *b)
    L = ((bx_ - ax_) ** 2 + (by_ - ay_) ** 2) ** 0.5
    f = (L - gap_px) / L
    return (a[0] + (b[0] - a[0]) * f, a[1] + (b[1] - a[1]) * f)


bottom = [
    (15, DIAG_I, I_dspn, C_DSPN, I_d1, C_D1, I_sel_from, I_sel_to),
    (16, DIAG_J, J_ispn, C_ISPN, J_d2, C_D2, J_sel_from, J_sel_to),
    (17, DIAG_K, K_spn, C_SPN, K_ach, C_ACH, K_sel_from, K_sel_to),
]
for n, diag, p1, c1, p2, c2, sfrom, sto in bottom:
    xa, ya = ids(n)
    fig.add_trace(go.Scatter(x=diag, y=diag, mode="lines", line=dict(color="#777", width=1, dash="4px,3px"),
                             xaxis=xa, yaxis=ya, showlegend=False, hoverinfo="skip"))
    scatter(n, p1, "#ababab", c1, size=8, ew=1.5)
    scatter(n, p2, "#ababab", c2, size=8, ew=1.5)
    tip = arrow_end(n, sfrom, sto, 12)
    fig.add_trace(go.Scatter(x=[sfrom[0], tip[0]], y=[sfrom[1], tip[1]], mode="lines+markers",
                             line=dict(color="black", width=2.5),
                             marker=dict(symbol=["circle", "arrow"], size=[0, 11], color="black",
                                         angleref="previous"),
                             xaxis=xa, yaxis=ya, showlegend=False, hoverinfo="skip"))
    fig.add_trace(go.Scatter(x=[sfrom[0]], y=[sfrom[1]], mode="markers",
                             marker=dict(color=c1, size=13, line=dict(color="black", width=1.2)),
                             xaxis=xa, yaxis=ya, showlegend=False, hoverinfo="skip"))
    fig.add_trace(go.Scatter(x=[sto[0]], y=[sto[1]], mode="markers",
                             marker=dict(color=c2, size=13, line=dict(color="black", width=1.2)),
                             xaxis=xa, yaxis=ya, showlegend=False, hoverinfo="skip"))

insets = [
    (18, I1_v, I1_w, I1_fp, C_DSPN),
    (19, I2_v, I2_w, I2_fp, C_D1),
    (20, J1_v, J1_w, J1_fp, C_ISPN),
    (21, J2_v, J2_w, J2_fp, C_D2),
    (22, K1_v, K1_w, K1_fp, C_SPN),
    (23, K2_v, K2_w, K2_fp, C_ACH),
]
for n, vnull, wnull, fp, col in insets:
    xa, ya = ids(n)
    fig.add_trace(go.Scatter(x=xs(INSET_BOX), y=ys(INSET_BOX), mode="lines", fill="toself",
                             fillcolor="white", line=dict(width=0, color="white"),
                             xaxis=xa, yaxis=ya, showlegend=False, hoverinfo="skip"))
    for s in STREAMS:
        line(n, s, "#808080", width=0.8)
    fig.add_trace(go.Scatter(x=xs(ARROWS_LEFT), y=ys(ARROWS_LEFT), mode="markers",
                             marker=dict(symbol="triangle-left", size=5, color="#808080"),
                             xaxis=xa, yaxis=ya, showlegend=False, hoverinfo="skip"))
    fig.add_trace(go.Scatter(x=xs(ARROWS_RIGHT), y=ys(ARROWS_RIGHT), mode="markers",
                             marker=dict(symbol="triangle-right", size=5, color="#808080"),
                             xaxis=xa, yaxis=ya, showlegend=False, hoverinfo="skip"))
    line(n, wnull, col, width=2, dash="6px,3px")
    line(n, vnull, col, width=2)
    fig.add_trace(go.Scatter(x=xs(fp), y=ys(fp), mode="markers", marker=dict(color=col, size=6),
                             xaxis=xa, yaxis=ya, showlegend=False, hoverinfo="skip"))

annotations = []
shapes = []


def txt(text, x, y, size, color="black", angle=0, xanchor="center", yanchor="middle"):
    annotations.append(dict(text=text, x=x / W, y=1 - y / H, xref="paper", yref="paper",
                            showarrow=False, font=dict(family=FONT, size=size, color=color),
                            textangle=angle, xanchor=xanchor, yanchor=yanchor))


def hline_px(x0, x1, y, color, width):
    shapes.append(dict(type="line", xref="paper", yref="paper", x0=x0 / W, x1=x1 / W,
                       y0=1 - y / H, y1=1 - y / H, line=dict(color=color, width=width)))


def rect_px(x0, x1, y0, y1, color):
    shapes.append(dict(type="rect", xref="paper", yref="paper", x0=x0 / W, x1=x1 / W,
                       y0=1 - y1 / H, y1=1 - y0 / H, fillcolor=rgba(color, 0.25),
                       line=dict(color=color, width=1.2)))


# bottom-right legend
for i, (name, col) in enumerate(zip(LEGEND_MAIN, LEGEND_MAIN_COLORS)):
    y = 1100 + 22 * i
    hline_px(1265, 1288, y, col, 4)
    txt(name, 1304, y, 15.5, xanchor="left")
txt(LEGEND_SEL_TITLE, 1262, 1171, 15.5, xanchor="left")
for i, (name, col) in enumerate(zip(LEGEND_SEL, LEGEND_SEL_COLORS)):
    y = 1192 + 19.5 * i
    hline_px(1265, 1288, y, col, 4)
    txt(name, 1304, y, 15.5, xanchor="left")

# PCA legends
for base, names, cols in [(47, LEGEND_D, LEGEND_D_COLORS), (558, LEGEND_H, LEGEND_H_COLORS)]:
    for i, (name, col) in enumerate(zip(names, cols)):
        y = base + 16 * i
        rect_px(1383, 1403, y - 4, y + 4, col)
        txt(name, 1409, y, 9.5, xanchor="left")

for letter, x, y in [("A", 62, 20), ("B", 438, 20), ("C", 807, 20), ("D", 1166, 20),
                     ("E", 61, 549), ("F", 437, 549), ("G", 806, 549), ("H", 1166, 549),
                     ("I", 56, 1022), ("J", 433, 1024), ("K", 806, 1030)]:
    txt(letter, x, y, 18)
txt("A", 858, 428, 18)
txt("dSPN", 216, 20, 19)
txt("iSPN", 582, 20, 19)
txt("SPN", 970, 20, 19)
txt("Dopamine -  D1", 222, 544, 19, C_D1)
txt("Dopamine -  D2", 598, 544, 19, C_D2)
txt("Acetylcholine", 958, 544, 19, C_ACH)
txt("control", 20, 210, 19, angle=-90)
txt("neuromodulation", 20, 737, 19, angle=-90)

for wx, vx, tx, wy, vy, ty in [(72, 77, 232, 113, 322, 479), (449, 456, 609, 113, 322, 479),
                               (819, 825, 979, 113, 322, 479), (71, 77, 231, 631, 843, 991),
                               (449, 456, 612, 627, 843, 991), (819, 825, 979, 624, 843, 991)]:
    txt("w (pA)", wx, wy, 9.5, angle=-90)
    txt("Voltage (mV)", vx, vy, 9.5, angle=-90)
    txt("Time (ms)", tx, ty, 9.5)

txt("Principal Component 1", 1320, 478, 9.5)
txt("[E_L, V_peak, a]", 1320, 492, 9.5)
txt("Principal Component 2", 1166, 240, 9.5, angle=-90)
txt("(V_reset, Delta_t, V_th)", 1183, 240, 9.5, angle=-90)
txt("Principal Component 1", 1320, 990, 9.5)
txt("[V_reset, a, tau_w]", 1320, 1003, 9.5)
txt("Principal Component 2", 1166, 753, 9.5, angle=-90)
txt("[V_th, g_L, E_L]", 1183, 753, 9.5, angle=-90)

XL = "<i>a</i>/<i>g<sub>L</sub></i> (dimensionless)"
YL = "<i>τ<sub>m</sub></i>/<i>τ<sub>w</sub></i> (dimensionless)"
for x, y in [(232, 1334), (609, 1334), (979, 1334)]:
    txt(XL, x, y, 9.5)
for x in [82, 453, 831]:
    txt(YL, x, 1176, 9.5, angle=-90)

layout.update(
    width=W, height=H, margin=dict(l=0, r=0, t=0, b=0, pad=0, autoexpand=False),
    paper_bgcolor="white", plot_bgcolor="white",
    font=dict(family=FONT, size=10, color="#222"),
    annotations=annotations, shapes=shapes, showlegend=False,
)
fig.update_layout(layout)
fig.write_html("out.html", config={"displayModeBar": False},
               post_script="document.body.style.margin='0';document.body.style.overflow='hidden';")
